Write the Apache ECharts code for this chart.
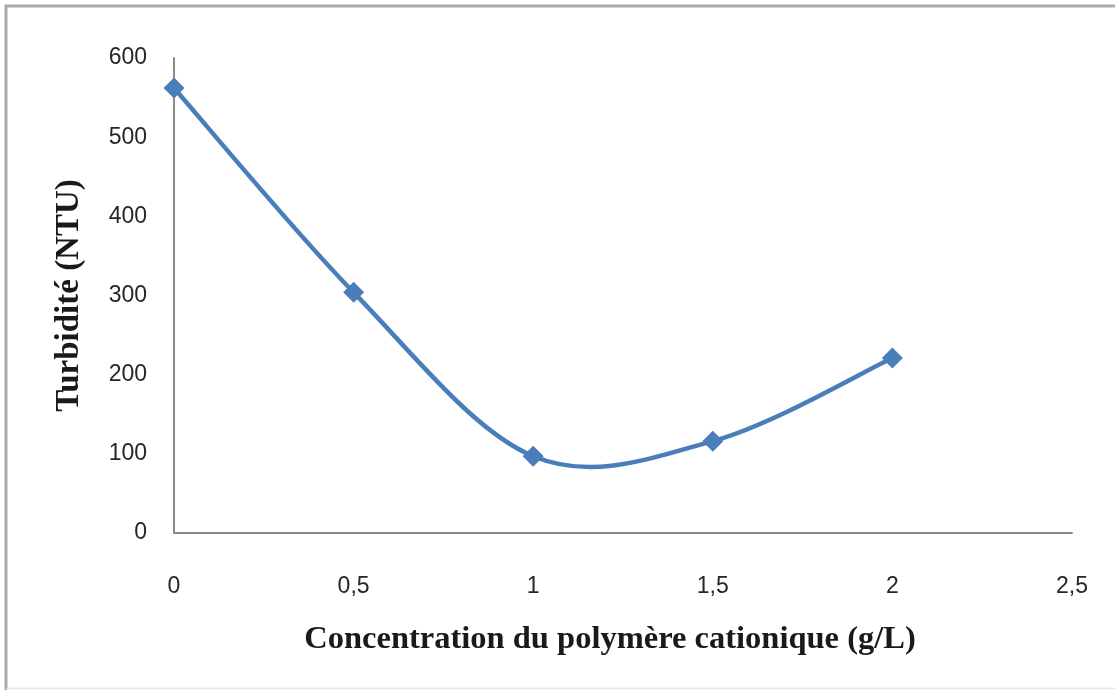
<!DOCTYPE html>
<html>
<head>
<meta charset="utf-8">
<script src="https://cdn.jsdelivr.net/npm/echarts@6/dist/echarts.min.js"></script>
<style>html,body{margin:0;padding:0;background:#fff;overflow:hidden;}#c{width:1115px;height:690px;}</style>
</head>
<body>
<div id="c"></div>
<script>
const concentrations = [0, 0.5, 1, 1.5, 2];
const turbidity = [562, 304, 97, 116, 221];
const xTickLabels = ['0', '0,5', '1', '1,5', '2', '2,5'];
const yTicks = [0, 100, 200, 300, 400, 500, 600];

const LINE_COLOR = '#4a7ebb';
const points = concentrations.map((x, i) => [x, turbidity[i]]);

function renderSegment(params, api) {
  const i = params.dataIndex;
  const n = points.length;
  if (i >= n - 1) return null;
  const c = k => api.coord(points[Math.max(0, Math.min(n - 1, k))]);
  const p0 = c(i - 1), p1 = c(i), p2 = c(i + 1), p3 = c(i + 2);
  return {
    type: 'bezierCurve',
    shape: {
      x1: p1[0], y1: p1[1], x2: p2[0], y2: p2[1],
      cpx1: p1[0] + (p2[0] - p0[0]) / 6, cpy1: p1[1] + (p2[1] - p0[1]) / 6,
      cpx2: p2[0] - (p3[0] - p1[0]) / 6, cpy2: p2[1] - (p3[1] - p1[1]) / 6
    },
    style: { fill: null, stroke: LINE_COLOR, lineWidth: 4.5 }
  };
}

const chart = echarts.init(document.getElementById('c'));
chart.setOption({
  animation: false,
  backgroundColor: '#fff',
  graphic: [{
    type: 'polyline', silent: true,
    shape: { points: [[6, 690], [6, 6], [1115, 6]] },
    style: { fill: null, stroke: '#aaa', lineWidth: 3 }
  }, {
    type: 'line', silent: true,
    shape: { x1: 6, y1: 688.5, x2: 1115, y2: 688.5 },
    style: { stroke: '#e4e4e4', lineWidth: 1.5 }
  }],
  grid: { left: 174, right: 43, top: 58, bottom: 157 },
  xAxis: {
    type: 'value', min: 0, max: 2.5, interval: 0.5,
    name: 'Concentration du polymère cationique (g/L)',
    nameLocation: 'middle', nameGap: 90,
    nameTextStyle: { fontFamily: 'Liberation Serif', fontWeight: 'bold', fontSize: 32.5, color: '#1a1a1a', padding: [0, 26, 0, 0] },
    axisLine: { lineStyle: { color: '#8a8a8a', width: 2 } },
    axisTick: { show: false },
    splitLine: { show: false },
    axisLabel: {
      margin: 42, fontFamily: "'Liberation Sans Narrow','Liberation Sans'", fontSize: 23, color: '#262626',
      formatter: v => xTickLabels[Math.round(v / 0.5)]
    }
  },
  yAxis: {
    type: 'value', min: yTicks[0], max: yTicks[yTicks.length - 1], interval: 100,
    name: 'Turbidité (NTU)',
    nameLocation: 'middle', nameGap: 88,
    nameTextStyle: { fontFamily: 'Liberation Serif', fontWeight: 'bold', fontSize: 33, color: '#1a1a1a' },
    axisLine: { show: true, lineStyle: { color: '#8a8a8a', width: 2 } },
    axisTick: { show: false },
    splitLine: { show: false },
    axisLabel: { margin: 27, fontFamily: "'Liberation Sans Narrow','Liberation Sans'", fontSize: 23, color: '#262626' }
  },
  series: [{
    type: 'custom',
    renderItem: renderSegment,
    data: points,
    encode: { x: 0, y: 1 },
    z: 2
  }, {
    type: 'scatter',
    data: points,
    symbol: 'diamond', symbolSize: 21,
    itemStyle: { color: LINE_COLOR, opacity: 1 },
    z: 3
  }]
});
</script>
</body>
</html>
